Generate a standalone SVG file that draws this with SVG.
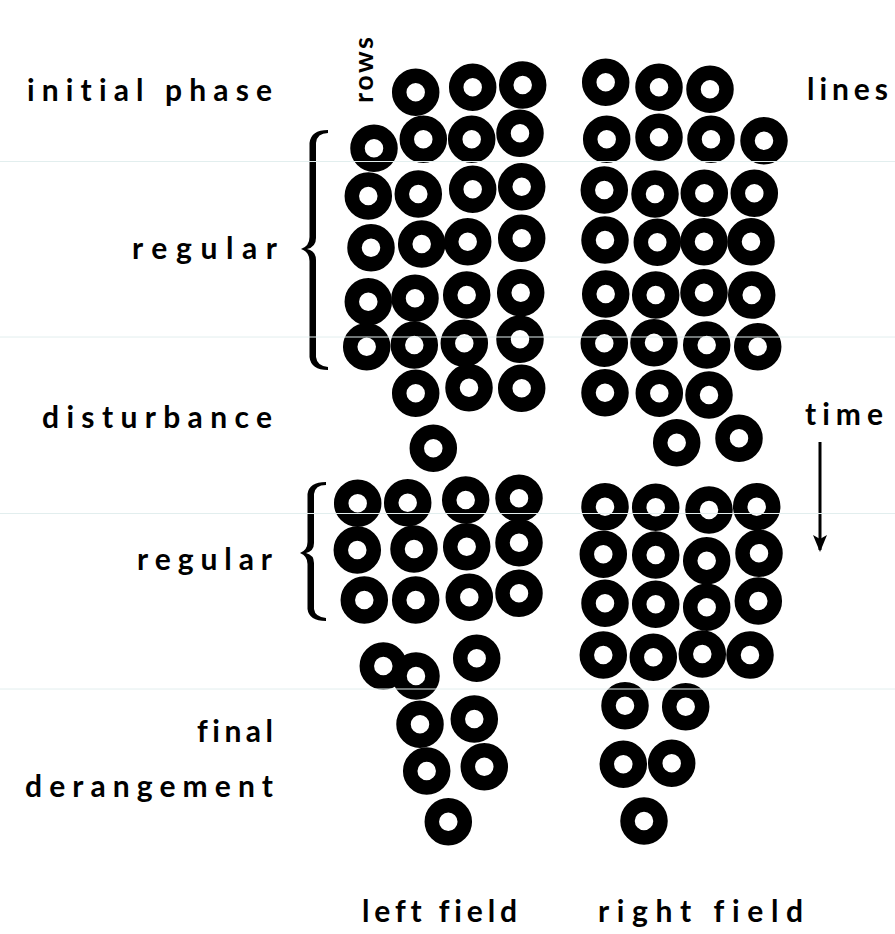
<svg xmlns="http://www.w3.org/2000/svg" xmlns:xlink="http://www.w3.org/1999/xlink" width="895" height="934" viewBox="0 0 895 934">
<style>
.lbl{font-family:Lato,"Open Sans","Liberation Sans",sans-serif;font-size:30px;font-weight:bold;fill:#000;font-variant-ligatures:none;font-feature-settings:"liga" 0,"clig" 0}
.ring{fill:none;stroke:#000;stroke-width:14.5}
.scan{stroke:#e2eeee;stroke-width:1}
</style>
<defs>
<circle id="r" class="ring" cx="0" cy="0" r="16.5"/>
<marker id="ah" markerWidth="17" markerHeight="14" refX="15" refY="7" orient="auto" markerUnits="userSpaceOnUse"><path d="M0,0 L17,7 L0,14 L4,7 Z" fill="#000"/></marker>
</defs>
<rect width="895" height="934" fill="#fff"/>
<g id="labels">
<text class="lbl" x="27" y="101" textLength="245" lengthAdjust="spacing">initial phase</text>
<text class="lbl" x="132" y="259" textLength="145" lengthAdjust="spacing">regular</text>
<text class="lbl" x="42" y="428" textLength="230" lengthAdjust="spacing">disturbance</text>
<text class="lbl" x="137" y="570" textLength="135" lengthAdjust="spacing">regular</text>
<text class="lbl" x="197" y="742" textLength="76" lengthAdjust="spacing">final</text>
<text class="lbl" x="25" y="797" textLength="248" lengthAdjust="spacing">derangement</text>
<text class="lbl" x="362" y="922" textLength="155" lengthAdjust="spacing">left field</text>
<text class="lbl" x="598" y="922" textLength="205" lengthAdjust="spacing">right field</text>
<text class="lbl" x="807" y="100" textLength="81" lengthAdjust="spacing">lines</text>
<text class="lbl" x="805" y="425" textLength="78" lengthAdjust="spacing">time</text>
<text class="lbl" transform="translate(373,103) rotate(-90)" style="font-size:27px" textLength="66" lengthAdjust="spacing">rows</text>
</g>
<g id="braces">
<path id="brace1" d="M328,130 Q311,130 309.5,143 L309.5,237 Q309.5,246 301,249 Q309.5,252 309.5,261 L309.5,357 Q311,370 328,370 L328,367 Q317,366 316,357 L316,260 Q316,251 307,249 Q316,247 316,238 L316,143 Q317,133 328,133 Z" fill="#000"/>
<path id="brace2" d="M326,482 Q309,482 307.5,494 L307.5,542 Q307.5,550 300,553 Q307.5,556 307.5,564 L307.5,609 Q309,621 326,621 L326,618 Q315,617 314,609 L314,563 Q314,555 306,553 Q314,551 314,543 L314,494 Q315,485 326,485 Z" fill="#000"/>
</g>
<g id="connectors">
<line id="time-arrow" x1="820" y1="442" x2="820" y2="550" stroke="#000" stroke-width="3" marker-end="url(#ah)"/>
</g>
<g id="left-field">
<use id="L0a" href="#r" x="415.7" y="92.3"/><use id="L0b" href="#r" x="472.7" y="87.3"/><use id="L0c" href="#r" x="522.7" y="85"/>
<use id="L1a" href="#r" x="374" y="148.3"/><use id="L1b" href="#r" x="423.3" y="139.3"/><use id="L1c" href="#r" x="471.7" y="139.3"/><use id="L1d" href="#r" x="520" y="133.3"/>
<use id="L2a" href="#r" x="368.3" y="196"/><use id="L2b" href="#r" x="418.3" y="194"/><use id="L2c" href="#r" x="472.7" y="189.3"/><use id="L2d" href="#r" x="521.7" y="186.7"/>
<use id="L3a" href="#r" x="371" y="247.7"/><use id="L3b" href="#r" x="421.7" y="244"/><use id="L3c" href="#r" x="467.7" y="241.7"/><use id="L3d" href="#r" x="521.7" y="238.3"/>
<use id="L4a" href="#r" x="368.3" y="301.7"/><use id="L4b" href="#r" x="415" y="298.3"/><use id="L4c" href="#r" x="466.7" y="295"/><use id="L4d" href="#r" x="520.7" y="292.7"/>
<use id="L5a" href="#r" x="366.7" y="346.7"/><use id="L5b" href="#r" x="414.3" y="345"/><use id="L5c" href="#r" x="464.3" y="343.3"/><use id="L5d" href="#r" x="520" y="339.3"/>
<use id="L6a" href="#r" x="415.7" y="393.3"/><use id="L6b" href="#r" x="469" y="387.7"/><use id="L6c" href="#r" x="521.7" y="388.3"/>
<use id="L7a" href="#r" x="433.3" y="448.3"/>
<use id="L8a" href="#r" x="357.7" y="503.3"/><use id="L8b" href="#r" x="407.7" y="502.7"/><use id="L8c" href="#r" x="465.7" y="500"/><use id="L8d" href="#r" x="519" y="498.3"/>
<use id="L9a" href="#r" x="357.3" y="550"/><use id="L9b" href="#r" x="414" y="549"/><use id="L9c" href="#r" x="466.7" y="546.7"/><use id="L9d" href="#r" x="519" y="542.7"/>
<use id="L10a" href="#r" x="364.3" y="600"/><use id="L10b" href="#r" x="415.7" y="600"/><use id="L10c" href="#r" x="469.3" y="597.3"/><use id="L10d" href="#r" x="519" y="593.3"/>
<use id="L11a" href="#r" x="383.3" y="666"/><use id="L11b" href="#r" x="416" y="676"/><use id="L11c" href="#r" x="476.7" y="658.3"/>
<use id="L12a" href="#r" x="420" y="724.3"/><use id="L12b" href="#r" x="474.3" y="719"/>
<use id="L13a" href="#r" x="426.7" y="771"/><use id="L13b" href="#r" x="484.3" y="766.7"/>
<use id="L14a" href="#r" x="448.3" y="821.7"/>
</g>
<g id="right-field">
<use id="R0a" href="#r" x="605.7" y="82.3"/><use id="R0b" href="#r" x="659" y="87.3"/><use id="R0c" href="#r" x="710" y="89.3"/>
<use id="R1a" href="#r" x="606.7" y="139.3"/><use id="R1b" href="#r" x="659" y="137.3"/><use id="R1c" href="#r" x="711" y="139.3"/><use id="R1d" href="#r" x="764" y="140.7"/>
<use id="R2a" href="#r" x="604.3" y="190"/><use id="R2b" href="#r" x="655" y="194"/><use id="R2c" href="#r" x="704.3" y="193.3"/><use id="R2d" href="#r" x="754.3" y="193.3"/>
<use id="R3a" href="#r" x="605" y="240"/><use id="R3b" href="#r" x="657.3" y="242.3"/><use id="R3c" href="#r" x="704" y="241.7"/><use id="R3d" href="#r" x="751" y="241.7"/>
<use id="R4a" href="#r" x="605.7" y="294"/><use id="R4b" href="#r" x="655.7" y="295"/><use id="R4c" href="#r" x="704" y="292.7"/><use id="R4d" href="#r" x="751.7" y="295"/>
<use id="R5a" href="#r" x="604.3" y="343.3"/><use id="R5b" href="#r" x="654" y="342.7"/><use id="R5c" href="#r" x="706.7" y="345"/><use id="R5d" href="#r" x="757.7" y="346.7"/>
<use id="R6a" href="#r" x="605" y="392.7"/><use id="R6b" href="#r" x="659.3" y="393.3"/><use id="R6c" href="#r" x="709" y="395"/>
<use id="R7a" href="#r" x="676.7" y="442.7"/><use id="R7b" href="#r" x="739" y="438.3"/>
<use id="R8a" href="#r" x="605" y="506.7"/><use id="R8b" href="#r" x="655.7" y="507.3"/><use id="R8c" href="#r" x="709" y="510"/><use id="R8d" href="#r" x="756.7" y="506.7"/>
<use id="R9a" href="#r" x="603.3" y="554.3"/><use id="R9b" href="#r" x="655.7" y="555"/><use id="R9c" href="#r" x="706.7" y="560.7"/><use id="R9d" href="#r" x="759" y="553.3"/>
<use id="R10a" href="#r" x="605" y="603.3"/><use id="R10b" href="#r" x="655.7" y="604.3"/><use id="R10c" href="#r" x="706.7" y="607.3"/><use id="R10d" href="#r" x="758.3" y="601"/>
<use id="R11a" href="#r" x="603.3" y="655"/><use id="R11b" href="#r" x="653.3" y="657.3"/><use id="R11c" href="#r" x="702.3" y="654"/><use id="R11d" href="#r" x="750" y="655"/>
<use id="R12a" href="#r" x="625" y="705.7"/><use id="R12b" href="#r" x="685.7" y="706.7"/>
<use id="R13a" href="#r" x="623.3" y="764.3"/><use id="R13b" href="#r" x="671.7" y="763.3"/>
<use id="R14a" href="#r" x="644" y="821"/>
</g>
<g id="scan-lines">
<line class="scan" x1="0" y1="161.5" x2="895" y2="161.5"/>
<line class="scan" x1="0" y1="337" x2="895" y2="337"/>
<line class="scan" x1="0" y1="513.5" x2="895" y2="513.5"/>
<line class="scan" x1="0" y1="689" x2="895" y2="689"/>
</g>
</svg>
